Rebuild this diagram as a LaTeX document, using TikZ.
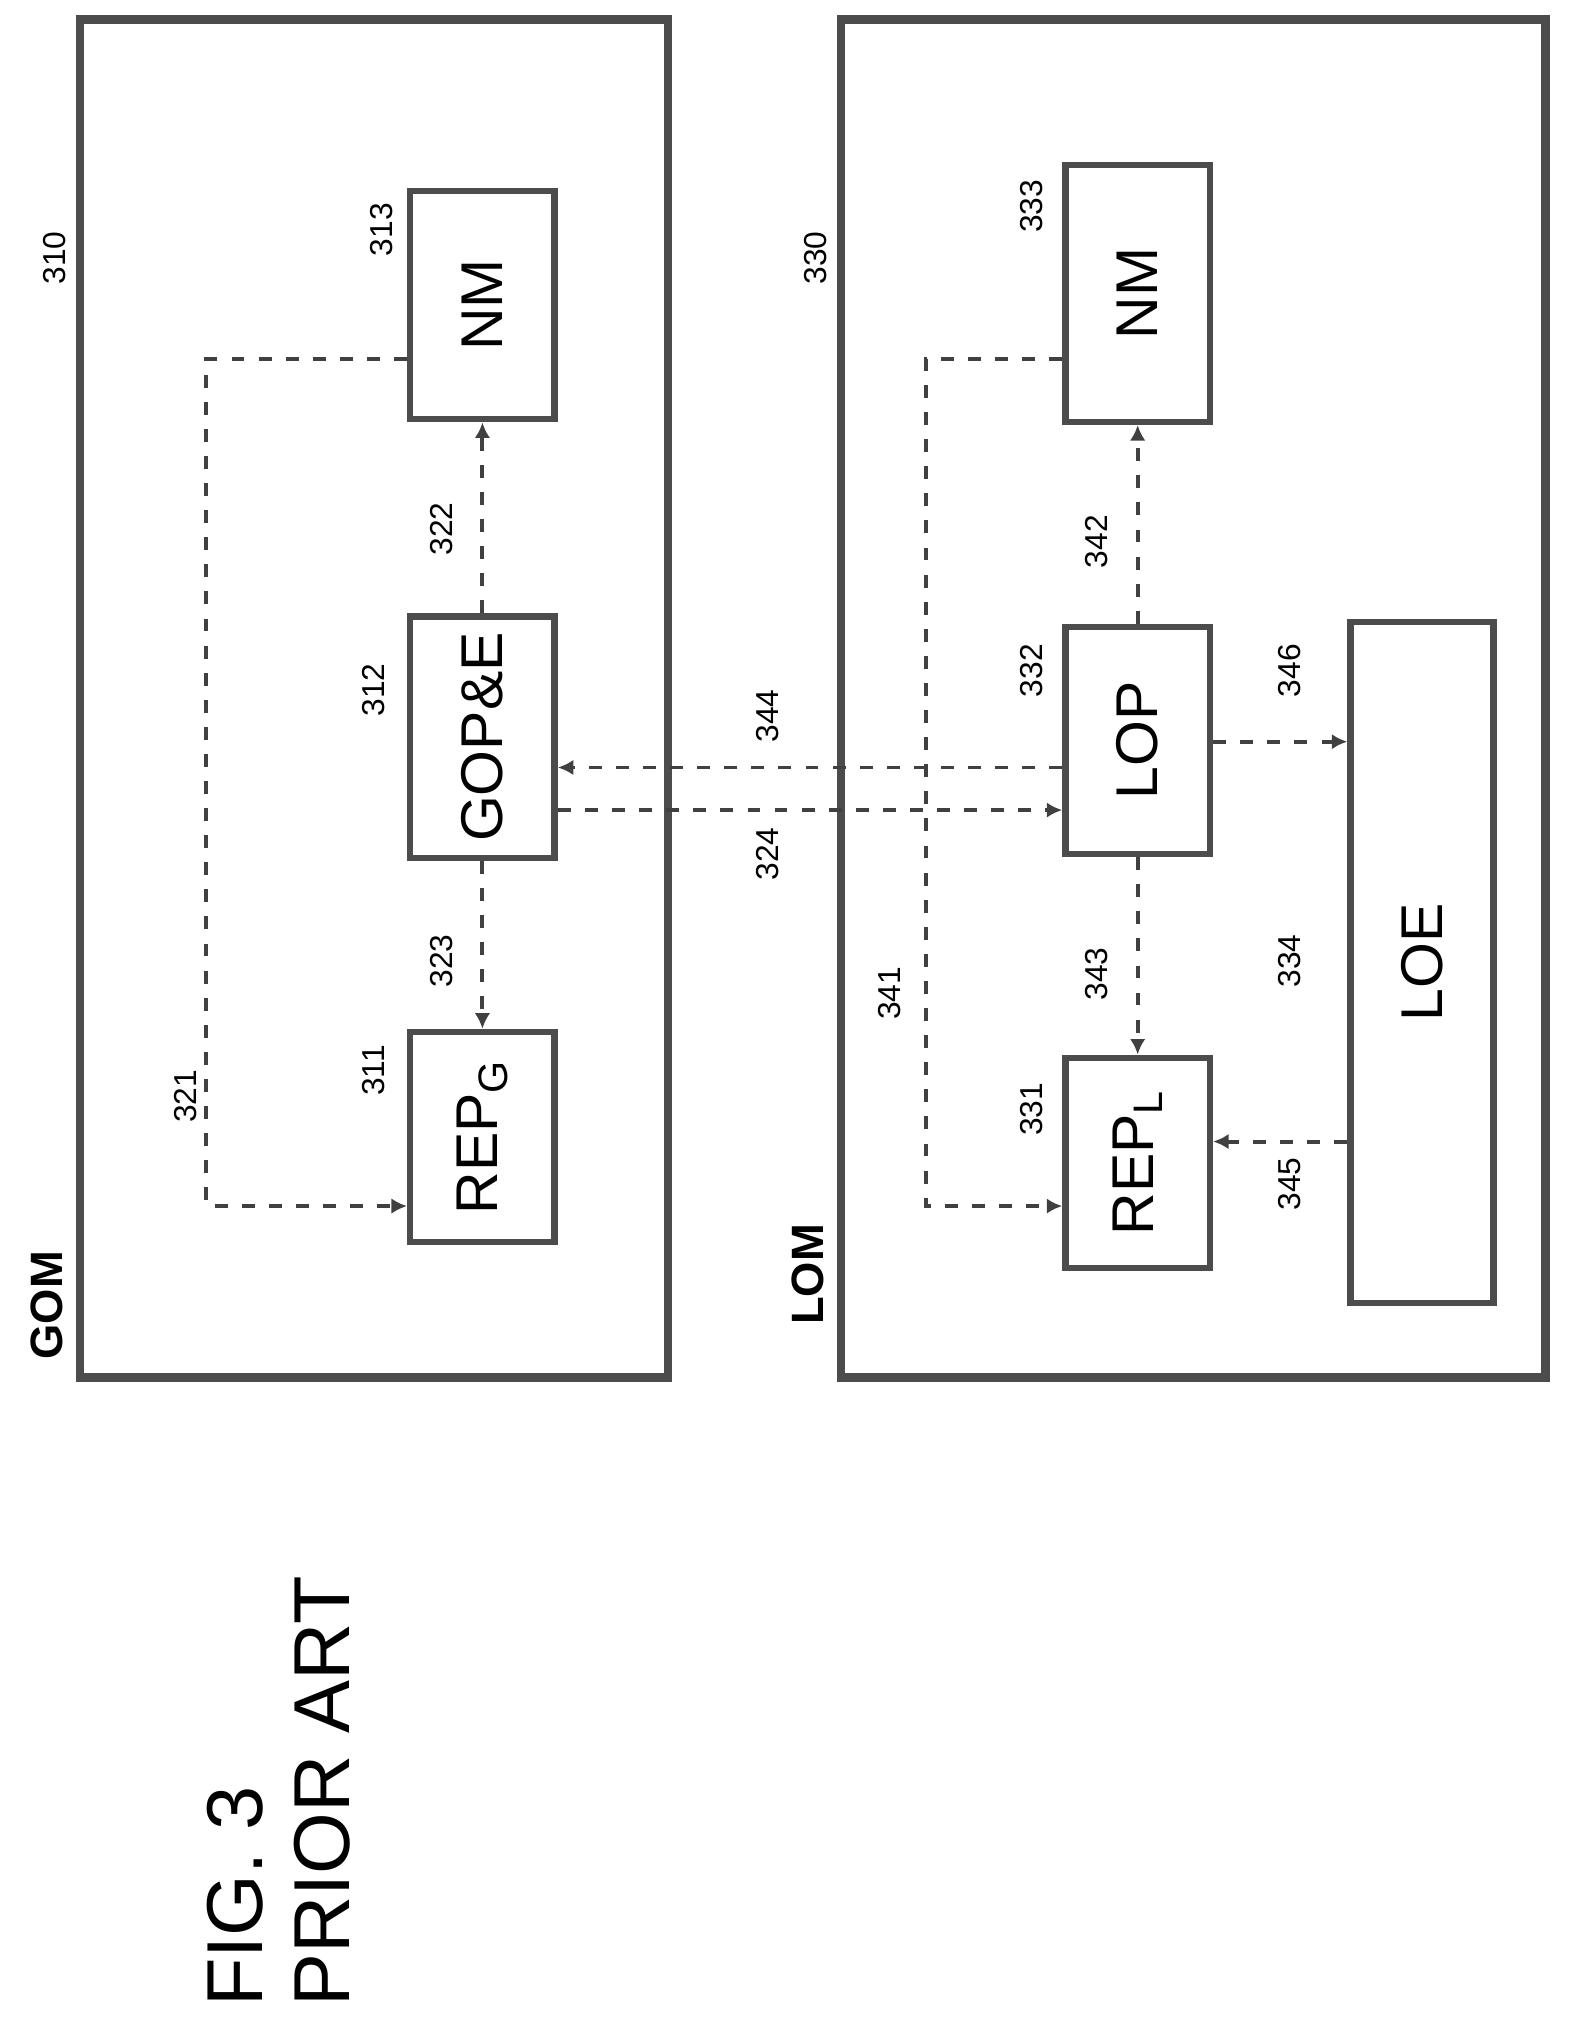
\documentclass[tikz,border=0pt]{standalone}
\usepackage{fontspec}
\setmainfont{Liberation Sans}
\usetikzlibrary{arrows.meta}
\tikzset{>={Latex[width=2.4mm,length=2.4mm]}}
\begin{document}
\begin{tikzpicture}[x=0.2mm,y=-0.2mm,
  frame/.style={draw=black!70, line width=1.3mm, rotate=90, minimum height=91.2mm},
  box/.style={draw=black!70, line width=1mm, rotate=90, minimum height=22.4mm, font=\fontsize{26}{30}\selectfont},
  lbl/.style={rotate=90, font=\fontsize{14}{16}\selectfont},
  dsh/.style={draw=black!75, line width=0.6mm, dash pattern=on 2mm off 2.2mm, ->}]
  \useasboundingbox (0,0) rectangle (1220,1573);

  %Frames
  \node[frame, minimum width=210.6mm] (gom) at (290,541.5) {};
  \node[frame, minimum width=210.6mm, minimum height=109.2mm] (lom) at (925,541.5) {};
  \node[rotate=90, font=\bfseries\fontsize{20}{22}\selectfont] (gom_text) at (36,1012) {GOM};
  \node[rotate=90, font=\bfseries\fontsize{20}{22}\selectfont] (lom_text) at (626,988) {LOM};

  %Blocks
  \node[box, minimum width=35.4mm] (nm_g) at (374,236.5) {NM};
  \node[box, minimum width=37.4mm] (gop) at (374,571.5) {GOP\&E};
  \node[box, minimum width=32.6mm] (rep_g) at (374,881.5) {REP\textsubscript{G}};
  \node[box, minimum width=39.8mm] (nm_l) at (882,227.5) {NM};
  \node[box, minimum width=35.2mm] (lop) at (882,574) {LOP};
  \node[box, minimum width=32.6mm] (rep_l) at (882,901.5) {REP\textsubscript{L}};
  \node[box, minimum width=105.6mm, minimum height=22.2mm] (loe) at (1102.5,746) {LOE};

  %Numbers
  \node[lbl] (n310) at (42,200) {310};
  \node[lbl] (n330) at (632,200) {330};
  \node[lbl] (n311) at (290,830) {311};
  \node[lbl] (n312) at (290,535) {312};
  \node[lbl] (n313) at (296,178) {313};
  \node[lbl] (n321) at (144,850) {321};
  \node[lbl] (n322) at (342,410) {322};
  \node[lbl] (n323) at (342,745) {323};
  \node[lbl] (n324) at (595,662) {324};
  \node[lbl] (n344) at (595,555) {344};
  \node[lbl] (n331) at (800,860) {331};
  \node[lbl] (n332) at (800,520) {332};
  \node[lbl] (n333) at (800,160) {333};
  \node[lbl] (n341) at (690,770) {341};
  \node[lbl] (n342) at (850,420) {342};
  \node[lbl] (n343) at (850,755) {343};
  \node[lbl] (n334) at (1000,745) {334};
  \node[lbl] (n345) at (1000,918) {345};
  \node[lbl] (n346) at (1000,520) {346};

  \node[rotate=90, anchor=west, font=\fontsize{35}{40}\selectfont] (fig) at (182,1562) {FIG. 3};
  \node[rotate=90, anchor=west, font=\fontsize{35}{40}\selectfont] (prior) at (250,1562) {PRIOR ART};

  %Lines
  \coordinate (g1) at (160,278);
  \coordinate (g2) at (160,935);
  \coordinate (l1) at (718,278);
  \coordinate (l2) at (718,935);
  \draw[dsh] (nm_g.north |- g1) -- (g1) -- (g2) -- (rep_g.north |- g2);
  \draw[dsh] (gop.east) -- (nm_g.west);
  \draw[dsh] (gop.west) -- (rep_g.east);
  \draw[dsh] (gop.south |- 0,628) -- (lop.north |- 0,628);
  \draw[dsh] (lop.north |- 0,595) -- (gop.south |- 0,595);
  \draw[dsh] (nm_l.north |- l1) -- (l1) -- (l2) -- (rep_l.north |- l2);
  \draw[dsh] (lop.east) -- (nm_l.west);
  \draw[dsh] (lop.west) -- (rep_l.east);
  \draw[dsh] (loe.north |- 0,885) -- (rep_l.south |- 0,885);
  \draw[dsh] (lop.south |- 0,575) -- (loe.north |- 0,575);
\end{tikzpicture}
\end{document}
